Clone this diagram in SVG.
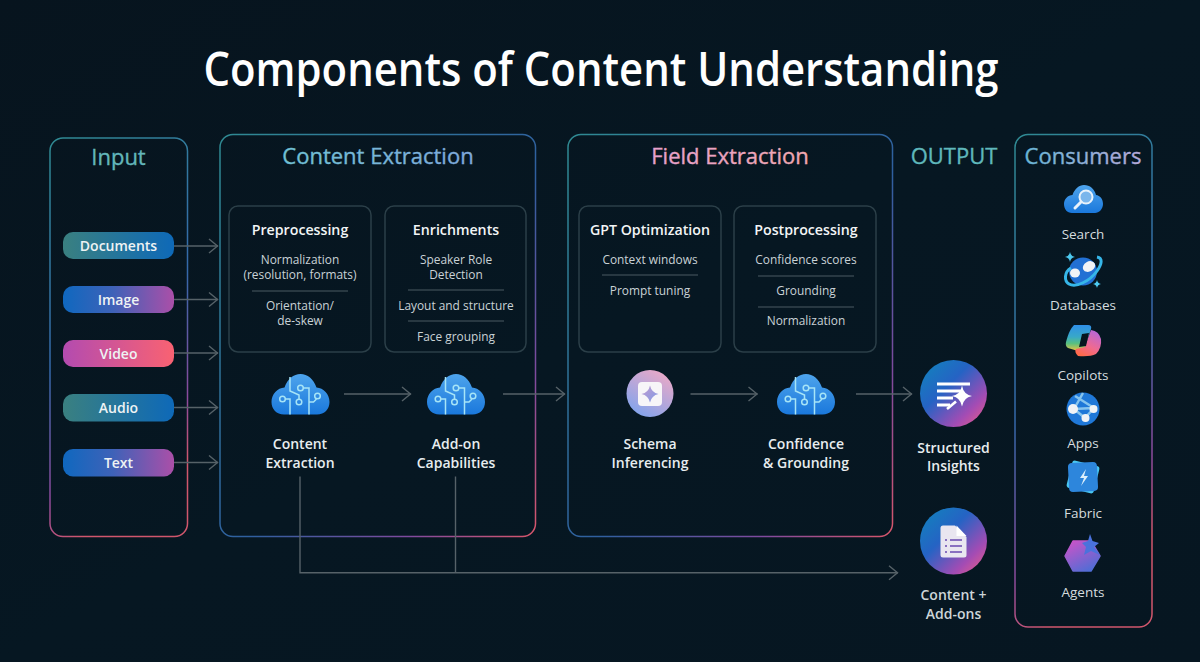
<svg xmlns="http://www.w3.org/2000/svg" width="1200" height="662" viewBox="0 0 1200 662">
<style>
text{font-family:"Open Sans","Noto Sans","Liberation Sans",sans-serif;text-anchor:middle}
.title{font-size:46.5px;font-weight:600;fill:#fff}
.head{font-size:22px;font-weight:500;stroke-width:.35}
.sub{font-size:14.2px;font-weight:600;fill:#f2f5f6}
.body{font-size:11.9px;fill:#c9d2d6}
.node{font-size:14px;font-weight:600;fill:#e8edef}
.cons{font-size:13.5px;fill:#d5dcdf}
.pill{font-size:14px;font-weight:600;fill:#eef3f4}
.inner{fill:none;stroke:#2b3f48;stroke-width:1.5}
.sep{stroke:#4a5a62;stroke-width:1}
.conn{fill:none;stroke:#566268;stroke-width:1.4}
.arr{marker-end:url(#ah)}
.trace{fill:none;stroke:#a6e4f7;stroke-width:1.5}
</style>
<defs>
<linearGradient id="bg" x1="0" y1="0" x2="1" y2="1"><stop offset="0" stop-color="#07141e"/><stop offset="0.5" stop-color="#061722"/><stop offset="1" stop-color="#061621"/></linearGradient>
<linearGradient id="frame" x1="0" y1="0" x2="0.25" y2="1"><stop offset="0" stop-color="#2f8a92"/><stop offset="0.55" stop-color="#3468aa"/><stop offset="0.85" stop-color="#8c4a9c"/><stop offset="1" stop-color="#d0566c"/></linearGradient>
<linearGradient id="frameW" x1="0" y1="0" x2="1" y2="1"><stop offset="0" stop-color="#2f8a92"/><stop offset="0.55" stop-color="#2f5f9f"/><stop offset="0.8" stop-color="#7f4a9e"/><stop offset="1" stop-color="#d8566a"/></linearGradient>
<linearGradient id="pTeal" x1="0" y1="0" x2="1" y2="0"><stop offset="0" stop-color="#3a8080"/><stop offset="1" stop-color="#0e69b8"/></linearGradient>
<linearGradient id="pBlue" x1="0" y1="0" x2="1" y2="0"><stop offset="0" stop-color="#0f68bf"/><stop offset="0.45" stop-color="#3e62b8"/><stop offset="1" stop-color="#ab4fa8"/></linearGradient>
<linearGradient id="pPink" x1="0" y1="0" x2="1" y2="0"><stop offset="0" stop-color="#b34bb0"/><stop offset="1" stop-color="#f96272"/></linearGradient>
<linearGradient id="hContent" x1="0" y1="0" x2="1" y2="0"><stop offset="0" stop-color="#70c2d4"/><stop offset="1" stop-color="#7fa8dc"/></linearGradient>
<linearGradient id="hField" x1="0" y1="0" x2="1" y2="0"><stop offset="0" stop-color="#e6a0cc"/><stop offset="1" stop-color="#f0a8b0"/></linearGradient>
<linearGradient id="hCons" x1="0" y1="0" x2="1" y2="0"><stop offset="0" stop-color="#68b6d6"/><stop offset="1" stop-color="#b5a8d8"/></linearGradient>
<linearGradient id="cloudG" x1="0" y1="0" x2="0" y2="1"><stop offset="0" stop-color="#4ea4ec"/><stop offset="1" stop-color="#1a78dc"/></linearGradient>
<linearGradient id="orb" x1="0" y1="0" x2="1" y2="1"><stop offset="0" stop-color="#0f86bc"/><stop offset="0.4" stop-color="#2563c4"/><stop offset="0.75" stop-color="#a44cb4"/><stop offset="1" stop-color="#f45f80"/></linearGradient>
<linearGradient id="schema" x1="0.2" y1="1" x2="0.8" y2="0"><stop offset="0" stop-color="#7ea4ee"/><stop offset="1" stop-color="#eda9c6"/></linearGradient>
<linearGradient id="star" x1="0" y1="0" x2="1" y2="1"><stop offset="0" stop-color="#c49bd0"/><stop offset="1" stop-color="#7e9ae6"/></linearGradient>
<linearGradient id="cop1" x1="0" y1="0" x2="0" y2="1"><stop offset="0" stop-color="#2f8fe8"/><stop offset="0.45" stop-color="#38a8c8"/><stop offset="0.7" stop-color="#58c080"/><stop offset="1" stop-color="#f5c33b"/></linearGradient>
<linearGradient id="cop2" x1="0.8" y1="0" x2="0.3" y2="1"><stop offset="0" stop-color="#b566dc"/><stop offset="0.6" stop-color="#f06a90"/><stop offset="1" stop-color="#ff6a4a"/></linearGradient>
<linearGradient id="agent" x1="0.2" y1="0" x2="0.8" y2="1"><stop offset="0" stop-color="#c854c8"/><stop offset="1" stop-color="#4a6ed6"/></linearGradient>
<marker id="ah" markerUnits="userSpaceOnUse" markerWidth="14" markerHeight="18" refX="10.500" refY="8" orient="auto"><path d="M1.500 1L10 8L1.500 15" fill="none" stroke="#566268" stroke-width="1.400"/></marker>
<symbol id="cloud" viewBox="0 0 58 41" overflow="visible">
<path d="M12.500 40.500C5 40.500 0 35 0 28C0 20 6 14 13 13.500C16 5 22 0 29 0C36 0 42 5 45 13.500C52 14 58 20 58 28C58 35 53 40.500 45.500 40.500Z" fill="url(#cloudG)"/>
<path class="trace" d="M18.500 3V17L27.500 21V25M32 14H37.500V40.500M38 28H42L45 25M13.500 25H18.500V40.500"/>
<circle class="trace" cx="27.500" cy="28" r="2.800"/><circle class="trace" cx="29" cy="14" r="2.800"/><circle class="trace" cx="46" cy="22" r="2.800"/><circle class="trace" cx="11" cy="25" r="2.800"/>
</symbol>
</defs>
<rect width="1200" height="662" fill="url(#bg)"/>
<text class="title" x="601" y="86" textLength="795" lengthAdjust="spacingAndGlyphs">Components of Content Understanding</text>

<g id="input">
<rect x="50" y="138" width="137.500" height="398.500" rx="13" fill="none" stroke="url(#frame)" stroke-width="1.500"/>
<text class="head" x="118.500" y="165" fill="#62b6ba" stroke="#62b6ba">Input</text>
</g>
<g id="pill-documents"><rect x="63" y="232" width="111" height="27" rx="10" fill="url(#pTeal)"/><text class="pill" x="118.500" y="251">Documents</text></g>
<g id="pill-image"><rect x="63" y="286" width="111" height="27" rx="10" fill="url(#pBlue)"/><text class="pill" x="118.500" y="305">Image</text></g>
<g id="pill-video"><rect x="63" y="340" width="111" height="27" rx="10" fill="url(#pPink)"/><text class="pill" x="118.500" y="359">Video</text></g>
<g id="pill-audio"><rect x="63" y="394" width="111" height="27.500" rx="10" fill="url(#pTeal)"/><text class="pill" x="118.500" y="413">Audio</text></g>
<g id="pill-text"><rect x="63" y="449" width="111" height="27.500" rx="10" fill="url(#pBlue)"/><text class="pill" x="118.500" y="468">Text</text></g>

<g id="content-extraction">
<rect x="220" y="134.500" width="315.500" height="402" rx="13" fill="none" stroke="url(#frameW)" stroke-width="1.500"/>
<text class="head" x="378" y="164" fill="url(#hContent)" stroke="url(#hContent)">Content Extraction</text>
</g>
<g id="preprocessing">
<rect class="inner" x="229" y="206" width="142" height="146" rx="9"/>
<text class="sub" x="300" y="235">Preprocessing</text>
<text class="body" x="300" y="264">Normalization</text><text class="body" x="300" y="279">(resolution, formats)</text>
<line class="sep" x1="252" y1="291" x2="348" y2="291"/>
<text class="body" x="300" y="310">Orientation/</text><text class="body" x="300" y="325">de-skew</text>
</g>
<g id="enrichments">
<rect class="inner" x="385" y="206" width="141" height="146" rx="9"/>
<text class="sub" x="456" y="235">Enrichments</text>
<text class="body" x="456" y="264">Speaker Role</text><text class="body" x="456" y="279">Detection</text>
<line class="sep" x1="408" y1="290" x2="504" y2="290"/>
<text class="body" x="456" y="310">Layout and structure</text>
<line class="sep" x1="408" y1="321" x2="504" y2="321"/>
<text class="body" x="456" y="341">Face grouping</text>
</g>
<g id="node-content-extraction"><use href="#cloud" x="271.500" y="374" width="58" height="41"/><text class="node" x="300" y="449">Content</text><text class="node" x="300" y="468">Extraction</text></g>
<g id="node-addon"><use href="#cloud" x="427" y="374" width="58" height="41"/><text class="node" x="456" y="449">Add-on</text><text class="node" x="456" y="468">Capabilities</text></g>

<g id="field-extraction">
<rect x="568" y="134.500" width="324.500" height="402" rx="13" fill="none" stroke="url(#frameW)" stroke-width="1.500"/>
<text class="head" x="730" y="164" fill="url(#hField)" stroke="url(#hField)">Field Extraction</text>
</g>
<g id="gpt-optimization">
<rect class="inner" x="579" y="206" width="142" height="146" rx="9"/>
<text class="sub" x="650" y="235">GPT Optimization</text>
<text class="body" x="650" y="264">Context windows</text>
<line class="sep" x1="602" y1="275" x2="698" y2="275"/>
<text class="body" x="650" y="295">Prompt tuning</text>
</g>
<g id="postprocessing">
<rect class="inner" x="734" y="206" width="142" height="146" rx="9"/>
<text class="sub" x="806" y="235">Postprocessing</text>
<text class="body" x="806" y="264">Confidence scores</text>
<line class="sep" x1="758" y1="276" x2="854" y2="276"/>
<text class="body" x="806" y="295">Grounding</text>
<line class="sep" x1="758" y1="307" x2="854" y2="307"/>
<text class="body" x="806" y="325">Normalization</text>
</g>
<g id="node-schema">
<circle cx="650" cy="393.500" r="23.500" fill="url(#schema)"/>
<rect x="638" y="382" width="24" height="24" rx="4" fill="#f7f5f8"/>
<path d="M650 385.500Q651.500 392.500 658.500 394Q651.500 395.500 650 402.500Q648.500 395.500 641.500 394Q648.500 392.500 650 385.500Z" fill="url(#star)"/>
<text class="node" x="650" y="449">Schema</text><text class="node" x="650" y="468">Inferencing</text>
</g>
<g id="node-confidence"><use href="#cloud" x="777" y="374" width="58" height="41"/><text class="node" x="806" y="449">Confidence</text><text class="node" x="806" y="468">&amp; Grounding</text></g>

<g id="output">
<text class="head" x="954" y="164" fill="#5fb8bc" stroke="#5fb8bc">OUTPUT</text>
</g>
<g id="node-structured">
<circle cx="953.500" cy="393.500" r="33.500" fill="url(#orb)"/>
<path d="M937 384H970M937 391H961M937 398H953M937 405H950" stroke="#fff" stroke-width="3" fill="none"/>
<path d="M962 385.500Q963.500 394.500 972 396Q963.500 397.500 962 406.500Q960.500 397.500 952 396Q960.500 394.500 962 385.500Z" fill="#fff"/>
<path d="M947 409L956 401.500" stroke="#fff" stroke-width="2.600"/>
<text class="node" x="953.500" y="453">Structured</text><text class="node" x="953.500" y="471">Insights</text>
</g>
<g id="node-content-addons">
<circle cx="953.500" cy="541" r="33.500" fill="url(#orb)"/>
<path d="M943 525.500H955L966.500 537V555Q966.500 557.500 964 557.500H943Q940.500 557.500 940.500 555V528Q940.500 525.500 943 525.500Z" fill="#e9e6f0"/>
<path d="M956.500 525.500L966.500 536H956.500Z" fill="#fff"/>
<path d="M945 540h2M950 540h12M945 546h2M950 546h12M945 552h2M950 552h12" stroke="#6a4ab0" stroke-width="1.600"/>
<text class="node" x="953.500" y="600" style="fill:#cdd5d8">Content +</text><text class="node" x="953.500" y="619" style="fill:#cdd5d8">Add-ons</text>
</g>

<g id="consumers">
<rect x="1015" y="134.500" width="137" height="492.500" rx="13" fill="none" stroke="url(#frame)" stroke-width="1.500"/>
<text class="head" x="1083" y="164" fill="url(#hCons)" stroke="url(#hCons)">Consumers</text>
</g>
<g id="consumer-search">
<path d="M1072 213C1067 213 1064 209 1064 204C1064 199 1068 195 1072.500 195C1074.500 189 1079 185 1084 185C1090 185 1094.500 189 1096 195C1100 195.500 1103 199 1103 204C1103 209 1099 213 1095 213Z" fill="url(#cloudG)"/>
<circle cx="1086" cy="197" r="6.500" fill="#7ab6ec" stroke="#e8f2fb" stroke-width="2"/>
<path d="M1081 202L1075 208" stroke="#e8f2fb" stroke-width="3" stroke-linecap="round"/>
<text class="cons" x="1083" y="239">Search</text>
</g>
<g id="consumer-databases">
<circle cx="1083" cy="271.500" r="14" fill="#2270d4"/>
<path d="M1071 268C1064 272 1064 281 1069 284C1076 288 1090 281 1097 271C1102 264 1103 258 1097 257" fill="none" stroke="#36b6e8" stroke-width="3"/>
<ellipse cx="1089" cy="266.500" rx="6.500" ry="5" transform="rotate(-30 1089 266.500)" fill="#f2f3f6"/><ellipse cx="1075" cy="273" rx="5" ry="4.500" fill="#f2f3f6"/>
<path d="M1070 252Q1070.800 256.500 1075 257Q1070.800 257.500 1070 262Q1069.200 257.500 1065 257Q1069.200 256.500 1070 252ZM1097 280Q1097.700 283.500 1101 284Q1097.700 284.500 1097 288Q1096.300 284.500 1093 284Q1096.300 283.500 1097 280Z" fill="#4cc8ee"/>
<text class="cons" x="1083" y="310">Databases</text>
</g>
<g id="consumer-copilots">
<path d="M1074 325H1088Q1092 325 1091 329L1084 350Q1082 352 1078 351L1068 348Q1065 346 1066 342Q1069 330 1074 325Z" fill="url(#cop1)"/>
<path d="M1091 330Q1099 331 1101 339Q1102 348 1096 354Q1090 357 1078 356Q1074 352 1076 349L1085 347Q1088 338 1091 330Z" fill="url(#cop2)"/>
<path d="M1082 334L1089 333L1086 346L1079 347Z" fill="#06161f"/>
<text class="cons" x="1083" y="380">Copilots</text>
</g>
<g id="consumer-apps">
<circle cx="1083" cy="409" r="16.500" fill="#1f78d8"/>
<path d="M1074 409L1094 408L1085 418ZM1074 409L1083 393M1094 408L1075 396" stroke="#86c4ee" stroke-width="2.500" fill="none"/>
<circle cx="1073" cy="409" r="5" fill="#f0f3f6"/><circle cx="1093.500" cy="409" r="4" fill="#f0f3f6"/><circle cx="1085.500" cy="418" r="4" fill="#f0f3f6"/>
<text class="cons" x="1083" y="448">Apps</text>
</g>
<g id="consumer-fabric">
<rect x="1069" y="463" width="28" height="28" rx="3" fill="#49c6f2" transform="rotate(14 1083 477)"/>
<rect x="1068.500" y="462.500" width="29" height="29" rx="4" fill="#2d86dc" transform="rotate(-3 1083 477)"/>
<path d="M1086 469L1080 478H1084L1081 486L1088 476H1084Z" fill="#dceffb"/>
<text class="cons" x="1083" y="518">Fabric</text>
</g>
<g id="consumer-agents">
<path d="M1073 541H1091L1100 556L1091 571H1073L1065 556Z" fill="url(#agent)" stroke="url(#agent)" stroke-width="1.500" stroke-linejoin="round"/>
<path d="M1090 534L1092.500 541L1099 543L1094 547L1100 555L1091 551L1084 555L1086 547L1082 543L1088 541Z" fill="#4a72dc"/>
<text class="cons" x="1083" y="597">Agents</text>
</g>

<g id="connectors">
<line class="conn arr" x1="174" y1="246" x2="218" y2="246"/>
<line class="conn arr" x1="174" y1="299.500" x2="218" y2="299.500"/>
<line class="conn arr" x1="174" y1="353" x2="218" y2="353"/>
<line class="conn arr" x1="174" y1="407.500" x2="218" y2="407.500"/>
<line class="conn arr" x1="174" y1="462.500" x2="218" y2="462.500"/>
<line class="conn arr" x1="344" y1="394" x2="411" y2="394"/>
<line class="conn arr" x1="503" y1="394" x2="565" y2="394"/>
<line class="conn arr" x1="690.500" y1="394" x2="757.500" y2="394"/>
<line class="conn arr" x1="856" y1="394" x2="912" y2="394"/>
<path class="conn arr" d="M300 476.500V572.700H898"/>
<line class="conn" x1="455.500" y1="476.500" x2="455.500" y2="572.700"/>
</g>
</svg>
